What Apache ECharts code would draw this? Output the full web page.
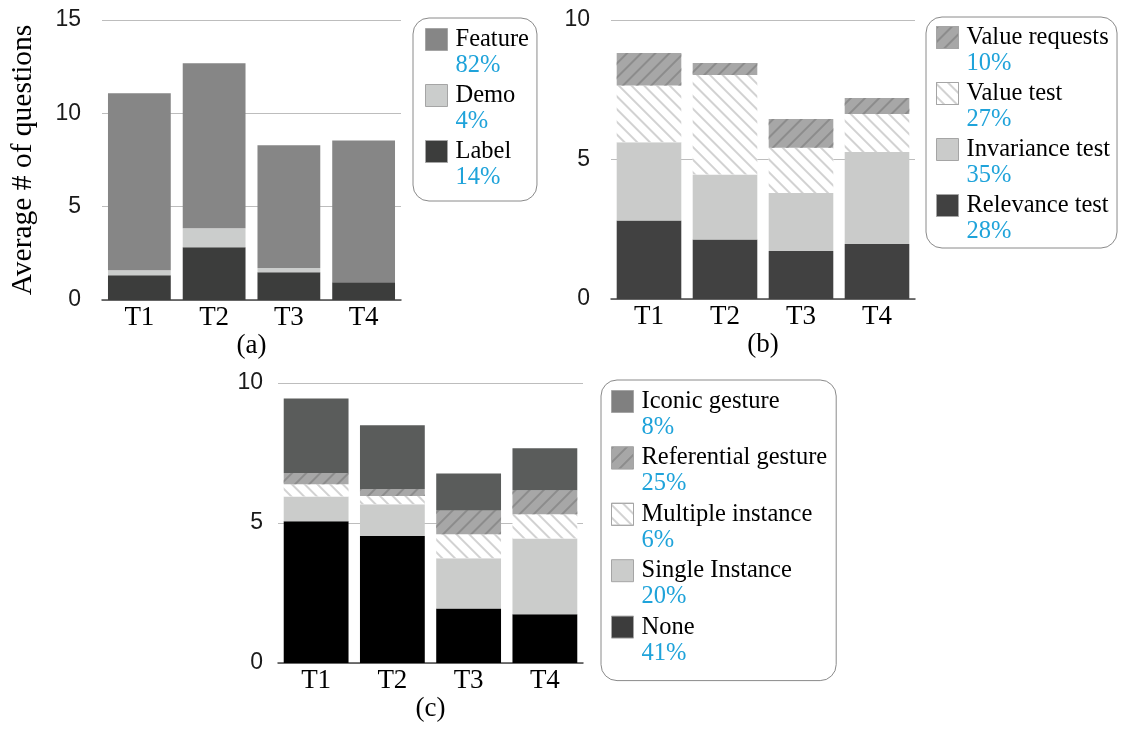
<!DOCTYPE html>
<html>
<head>
<meta charset="utf-8">
<script src="https://cdn.jsdelivr.net/npm/echarts@6/dist/echarts.min.js"></script>
<style>
  html, body { margin: 0; padding: 0; background: #ffffff; }
  #chart { width: 1126px; height: 729px; }
</style>
</head>
<body>
<div id="chart"></div>
<script>
// Tasks shown on every panel
const categories = ['T1', 'T2', 'T3', 'T4'];

// (a) question type
const labelQ   = [1.32, 2.82, 1.48, 0.95];
const demoQ    = [0.27, 1.02, 0.23, 0.00];
const featureQ = [9.48, 8.84, 6.58, 7.60];
const shareA   = { 'Feature': '82%', 'Demo': '4%', 'Label': '14%' };

// (b) question intent
const relevanceTest  = [2.81, 2.13, 1.72, 1.97];
const invarianceTest = [2.81, 2.33, 2.08, 3.30];
const valueTest      = [2.03, 3.57, 1.62, 1.36];
const valueRequests  = [1.17, 0.43, 1.03, 0.57];
const shareB = { 'Value requests': '10%', 'Value test': '27%', 'Invariance test': '35%', 'Relevance test': '28%' };

// (c) gesture accompanying the question
const noneG        = [5.06, 4.54, 1.95, 1.74];
const singleInst   = [0.89, 1.13, 1.79, 2.71];
const multipleInst = [0.43, 0.29, 0.86, 0.86];
const referential  = [0.41, 0.25, 0.85, 0.86];
const iconic       = [2.66, 2.28, 1.32, 1.50];
const shareC = { 'Iconic gesture': '8%', 'Referential gesture': '25%', 'Multiple instance': '6%', 'Single Instance': '20%', 'None': '41%' };

// y-axis ranges
const yMaxA = 15, yMaxB = 10, yMaxC = 10, yStep = 5;

const SERIF = '"Liberation Serif", "Times New Roman", serif';
const SANS = '"Liberation Sans", Arial, Helvetica, sans-serif';
const PCT_COLOR = '#1fa3da';

// hatch fills: "/" on grey, "\" on white
const hatchUp = { symbol: 'rect', symbolSize: 1, dashArrayX: [1, 0], dashArrayY: [1.6, 7.4], rotation: -Math.PI / 4, color: '#8c8c8c' };
const hatchDown = { symbol: 'rect', symbolSize: 1, dashArrayX: [1, 0], dashArrayY: [2, 7], rotation: Math.PI / 4, color: '#d2d2d2' };

const allShares = Object.assign({}, shareA, shareB, shareC);

function bar(name, data, idx, color, decal) {
  const s = {
    name: name, type: 'bar', data: data, stack: 'p' + idx,
    xAxisIndex: idx, yAxisIndex: idx,
    barCategoryGap: idx === 0 ? '16%' : '15%',
    itemStyle: { color: color },
    emphasis: { disabled: true }
  };
  if (decal) s.itemStyle.decal = decal;
  return s;
}

function xAxis(idx, name) {
  return {
    type: 'category', gridIndex: idx, data: categories,
    axisTick: { show: false },
    axisLine: { lineStyle: { color: '#4a4a4a', width: 1.5 } },
    axisLabel: { fontFamily: SERIF, fontSize: 27, color: '#000', margin: 4 },
    name: name, nameLocation: 'middle', nameGap: 32,
    nameTextStyle: { fontFamily: SERIF, fontSize: 27, color: '#000' }
  };
}

function yAxis(idx, max, margin, title) {
  const a = {
    type: 'value', gridIndex: idx, min: 0, max: max, interval: yStep,
    axisLine: { show: false }, axisTick: { show: false },
    splitLine: { lineStyle: { color: '#bdbdbd', width: 1 } },
    axisLabel: { fontFamily: SANS, fontSize: 23, color: '#1a1a1a', margin: margin }
  };
  if (title) {
    a.name = title; a.nameLocation = 'middle'; a.nameGap = 64; a.nameRotate = 90;
    a.nameMoveOverlap = false;
    a.nameTextStyle = { fontFamily: SERIF, fontSize: 29.5, color: '#000' };
  }
  return a;
}

// swatch on top, rest of the item height left to the two text lines
const swatchIcon = 'path://M0,0h22v22h-22zM0,48';

function legend(left, top, padding, gap, items) {
  return {
    orient: 'vertical', left: left, top: top, padding: padding,
    itemWidth: 22, itemHeight: 48, itemGap: gap, icon: swatchIcon,
    borderColor: '#8a8a8a', borderWidth: 1, borderRadius: 16,
    backgroundColor: '#fff',
    selectedMode: false,
    itemStyle: { borderColor: '#a5a5a5', borderWidth: 1 },
    data: items,
    formatter: function (name) { return '{n|' + name + '}\n{p|' + allShares[name] + '}'; },
    textStyle: {
      fontFamily: SERIF, fontSize: 24.5, color: '#000',
      rich: {
        n: { fontFamily: SERIF, fontSize: 24.5, lineHeight: 26, color: '#000', padding: [0, 0, 0, 3] },
        p: { fontFamily: SERIF, fontSize: 24.5, lineHeight: 26, color: PCT_COLOR, padding: [0, 0, 0, 3] }
      }
    }
  };
}

const option = {
  animation: false,
  backgroundColor: '#ffffff',
  grid: [
    { left: 102, top: 20, width: 299, height: 280, outerBoundsMode: 'none' },
    { left: 611, top: 20, width: 304, height: 279, outerBoundsMode: 'none' },
    { left: 278, top: 383, width: 305, height: 280, outerBoundsMode: 'none' }
  ],
  xAxis: [xAxis(0, '(a)'), xAxis(1, '(b)'), xAxis(2, '(c)')],
  yAxis: [
    yAxis(0, yMaxA, 21, 'Average # of questions'),
    yAxis(1, yMaxB, 21),
    yAxis(2, yMaxC, 15)
  ],
  legend: [
    legend(413, 18, [9, 8, 11, 12], 5, ['Feature', 'Demo', 'Label']),
    legend(926, 17, [8, 7, 4, 10], 5, ['Value requests', 'Value test', 'Invariance test', 'Relevance test']),
    legend(601, 380, [9, 9, 15, 10], 5.4, [
      { name: 'Iconic gesture', itemStyle: { color: '#808080' } },
      'Referential gesture', 'Multiple instance', 'Single Instance',
      { name: 'None', itemStyle: { color: '#3c3c3c' } }
    ])
  ],
  series: [
    bar('Label', labelQ, 0, '#3c3d3c'),
    bar('Demo', demoQ, 0, '#cbcdcc'),
    bar('Feature', featureQ, 0, '#868686'),

    bar('Relevance test', relevanceTest, 1, '#414141'),
    bar('Invariance test', invarianceTest, 1, '#cacbca'),
    bar('Value test', valueTest, 1, '#ffffff', hatchDown),
    bar('Value requests', valueRequests, 1, '#a7a7a7', hatchUp),

    bar('None', noneG, 2, '#000000'),
    bar('Single Instance', singleInst, 2, '#cbcccb'),
    bar('Multiple instance', multipleInst, 2, '#ffffff', hatchDown),
    bar('Referential gesture', referential, 2, '#a7a7a7', hatchUp),
    bar('Iconic gesture', iconic, 2, '#5a5c5b')
  ]
};

const chart = echarts.init(document.getElementById('chart'), null, { renderer: 'canvas' });
chart.setOption(option);
</script>
</body>
</html>
